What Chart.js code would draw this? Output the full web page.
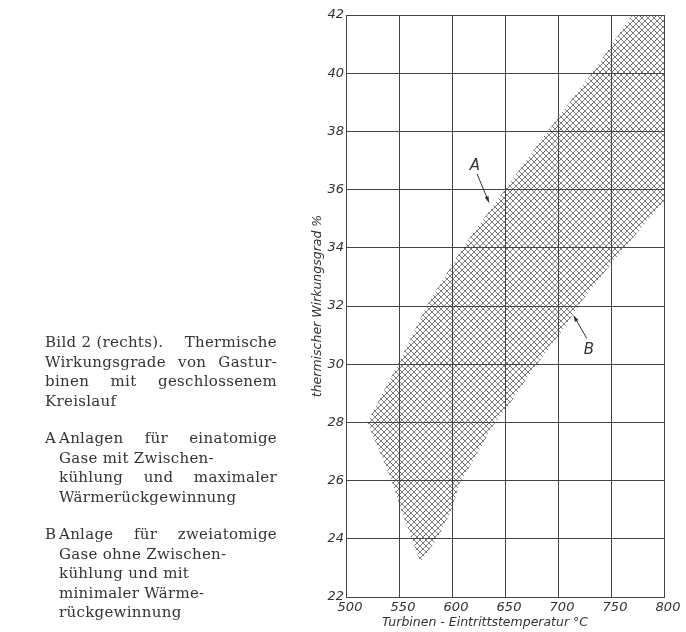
<!DOCTYPE html>
<html lang="de">
<head>
<meta charset="utf-8">
<title>Thermische Wirkungsgrade von Gasturbinen</title>
<script src="https://cdn.jsdelivr.net/npm/chart.js@4/dist/chart.umd.min.js"></script>
<style>
  html, body { margin: 0; padding: 0; background: #fff; }
  body { width: 686px; height: 632px; position: relative; overflow: hidden; }
  #chartBox { position: absolute; left: 0; top: 0; width: 686px; height: 632px; }
  #legende {
    position: absolute; left: 45px; top: 333px; width: 232px;
    font-family: 'DejaVu Serif', serif; font-size: 15px; line-height: 19.5px; color: #333;
    letter-spacing: 0.3px;
  }
  #legende div { white-space: nowrap; position: relative; }
  #legende .j { text-align: justify; text-align-last: justify; white-space: normal; }
  #legende .z { display: flex; justify-content: space-between; }
  #legende .e { padding-left: 14px; }
  #legende .k { position: absolute; left: 0; top: 0; }
  #legende .gap { height: 18px; }
</style>
</head>
<body>
<div id="chartBox"><canvas id="grafik"></canvas></div>

<div id="legende">
  <div class="z"><span>Bild 2 (rechts).</span><span>Thermische</span></div>
  <div class="j">Wirkungsgrade von Gastur-</div>
  <div class="j">binen mit geschlossenem</div>
  <div>Kreislauf</div>
  <div class="gap"></div>
  <div class="e j"><span class="k">A</span>Anlagen für einatomige</div>
  <div class="e">Gase mit Zwischen-</div>
  <div class="e j">kühlung und maximaler</div>
  <div class="e">Wärmerückgewinnung</div>
  <div class="gap"></div>
  <div class="e j"><span class="k">B</span>Anlage für zweiatomige</div>
  <div class="e">Gase ohne Zwischen-</div>
  <div class="e">kühlung und mit</div>
  <div class="e">minimaler Wärme-</div>
  <div class="e">rückgewinnung</div>
</div>

<script>
// Achsen (Turbinen-Eintrittstemperatur in °C, Wirkungsgrad in %)
const tempTicks = [500, 550, 600, 650, 700, 750, 800];
const effTicks = [22, 24, 26, 28, 30, 32, 34, 36, 38, 40, 42];

// Obere Grenze des Bereichs (Kurve A), von links nach rechts
const kanteATemp = [520, 549, 576, 610, 650, 690, 732, 770, 800];
const kanteAEff = [28.0, 30.0, 32.0, 34.0, 36.0, 38.0, 40.0, 42.0, 42.0];

// Untere Grenze (Kurve B) und linke Spitze, von rechts zurück nach links
const kanteBTemp = [800, 758, 723, 705, 674, 652, 639, 617, 607, 600, 586, 570, 560, 551, 544, 534, 520];
const kanteBEff = [35.6, 33.8, 32.2, 31.2, 29.7, 28.5, 27.9, 26.5, 25.9, 25.0, 24.0, 23.2, 24.2, 25.1, 25.9, 26.8, 28.0];

// Beschriftung A / B mit Pfeil
const markeText = ['A', 'B'];
const markeTemp = [621.7, 729.2];
const markeEff = [36.8, 30.5];
const pfeilVonTemp = [623.6, 727.1];
const pfeilVonEff = [36.54, 30.89];
const pfeilBisTemp = [635.2, 714.4];
const pfeilBisEff = [35.53, 31.69];

const bereich = kanteATemp.map((t, i) => ({ x: t, y: kanteAEff[i] }))
    .concat(kanteBTemp.map((t, i) => ({ x: t, y: kanteBEff[i] })));

// Kreuzschraffur als Muster
function schraffur() {
    const c = document.createElement('canvas');
    c.width = 6;
    c.height = 6;
    const g = c.getContext('2d');
    g.strokeStyle = 'rgba(75,75,75,0.8)';
    g.lineWidth = 0.9;
    g.beginPath();
    g.moveTo(-1, -1); g.lineTo(7, 7);
    g.moveTo(-1, 7); g.lineTo(7, -1);
    g.stroke();
    return g.createPattern(c, 'repeat');
}

const achsenFont = { family: "'DejaVu Sans', sans-serif", style: 'italic', size: 13 };
const titelFont = { family: "'DejaVu Sans', sans-serif", style: 'italic', size: 12.5 };
const linie = '#454545';
const schrift = '#333';

const beschriftung = {
    id: 'beschriftung',
    afterDatasetsDraw(chart) {
        const { ctx, scales: { x, y }, chartArea } = chart;
        ctx.save();
        ctx.fillStyle = schrift;
        ctx.strokeStyle = schrift;
        ctx.lineWidth = 1;

        // Buchstaben
        ctx.font = "italic 15px 'DejaVu Sans', sans-serif";
        ctx.textAlign = 'center';
        ctx.textBaseline = 'middle';
        markeText.forEach((txt, i) => {
            ctx.fillText(txt, x.getPixelForValue(markeTemp[i]), y.getPixelForValue(markeEff[i]));
        });

        // Pfeile
        markeText.forEach((txt, i) => {
            const x0 = x.getPixelForValue(pfeilVonTemp[i]);
            const y0 = y.getPixelForValue(pfeilVonEff[i]);
            const x1 = x.getPixelForValue(pfeilBisTemp[i]);
            const y1 = y.getPixelForValue(pfeilBisEff[i]);
            const w = Math.atan2(y1 - y0, x1 - x0);
            ctx.beginPath();
            ctx.moveTo(x0, y0);
            ctx.lineTo(x1 - 4 * Math.cos(w), y1 - 4 * Math.sin(w));
            ctx.stroke();
            ctx.beginPath();
            ctx.moveTo(x1, y1);
            ctx.lineTo(x1 - 7 * Math.cos(w) + 2 * Math.sin(w), y1 - 7 * Math.sin(w) - 2 * Math.cos(w));
            ctx.lineTo(x1 - 7 * Math.cos(w) - 2 * Math.sin(w), y1 - 7 * Math.sin(w) + 2 * Math.cos(w));
            ctx.closePath();
            ctx.fill();
        });

        // Titel der x-Achse
        ctx.font = "italic 12.5px 'DejaVu Sans', sans-serif";
        ctx.fillText('Turbinen - Eintrittstemperatur °C', (chartArea.left + chartArea.right) / 2 - 20, chartArea.bottom + 26);
        ctx.restore();
    }
};

new Chart(document.querySelector('#grafik'), {
    type: 'scatter',
    data: {
        datasets: [{
            data: bereich,
            showLine: true,
            fill: 'shape',
            backgroundColor: schraffur(),
            borderColor: 'transparent',
            borderWidth: 0,
            pointRadius: 0,
            tension: 0
        }]
    },
    options: {
        responsive: true,
        maintainAspectRatio: false,
        animation: false,
        layout: { padding: { left: 300, right: 22, top: 15, bottom: 0 } },
        plugins: {
            legend: { display: false },
            tooltip: { enabled: false }
        },
        scales: {
            x: {
                type: 'linear',
                min: 500,
                max: 800,
                afterBuildTicks: s => { s.ticks = tempTicks.map(v => ({ value: v })); },
                afterFit: s => { s.height = 35; },
                grid: { color: linie, lineWidth: 1, drawTicks: false },
                border: { color: linie, width: 1 },
                ticks: { font: achsenFont, color: schrift, padding: 3, labelOffset: 4, maxRotation: 0 }
            },
            y: {
                type: 'linear',
                min: 22,
                max: 42,
                afterBuildTicks: s => { s.ticks = effTicks.map(v => ({ value: v })); },
                afterFit: s => { s.width = 46; },
                grid: { color: linie, lineWidth: 1, drawTicks: false },
                border: { color: linie, width: 1 },
                ticks: { font: achsenFont, color: schrift, padding: 2 },
                title: {
                    display: true,
                    text: 'thermischer Wirkungsgrad %',
                    font: titelFont,
                    color: schrift,
                    padding: { top: 10, bottom: 0 }
                }
            }
        }
    },
    plugins: [beschriftung]
});
</script>
</body>
</html>
